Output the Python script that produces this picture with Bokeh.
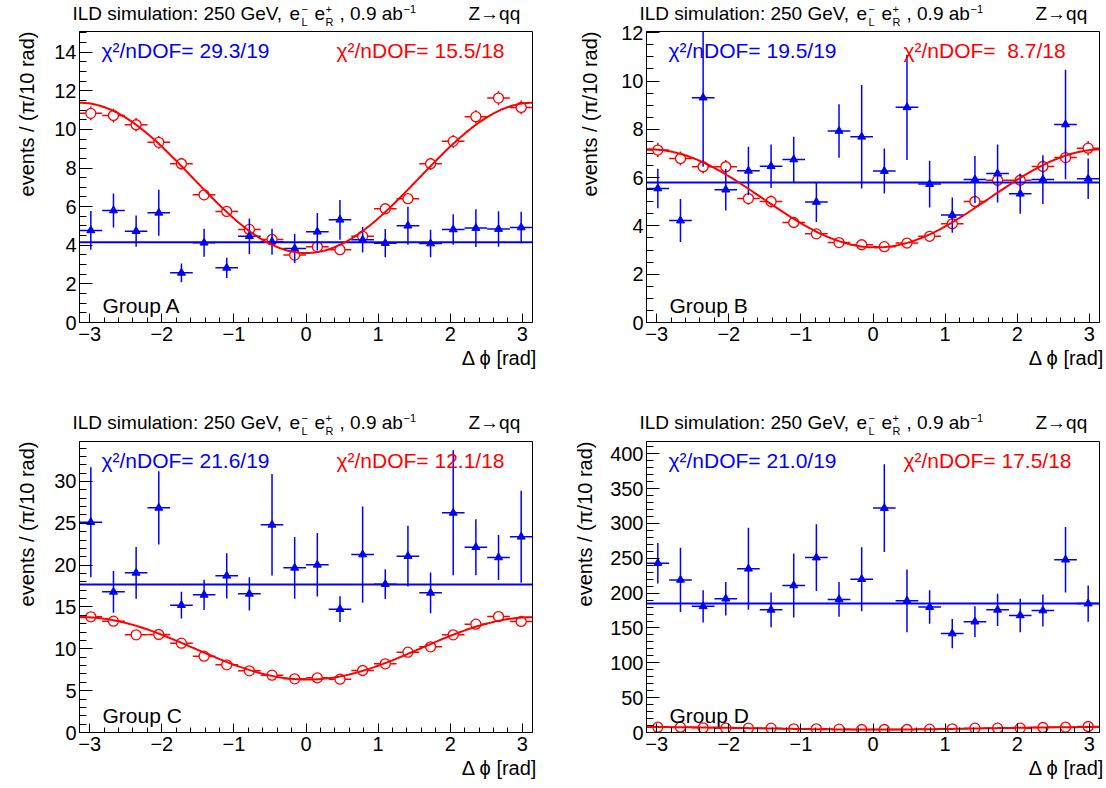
import numpy as np
from bokeh.plotting import figure
from bokeh.layouts import column, row
from bokeh.models import Range1d, FixedTicker, Label, ColumnDataSource, Title
from bokeh.embed import file_html
from bokeh.resources import INLINE

# ---------------- data ----------------
NBINS = 20
x_lo, x_hi = -np.pi, np.pi

# Group A
a_red = [10.83, 10.72, 10.24, 9.33, 8.22, 6.61, 5.75, 4.82, 4.30, 3.49,
         3.92, 3.77, 4.47, 5.89, 6.41, 8.22, 9.38, 10.66, 11.62, 11.14]
a_red_err = [0.36, 0.36, 0.35, 0.33, 0.31, 0.28, 0.26, 0.24, 0.23, 0.21,
             0.22, 0.21, 0.23, 0.26, 0.27, 0.31, 0.33, 0.35, 0.37, 0.36]
a_blue = [4.77, 5.80, 4.73, 5.68, 2.57, 4.13, 2.83, 4.47, 4.18, 3.83,
          4.70, 5.32, 4.28, 4.11, 5.01, 4.09, 4.82, 4.89, 4.84, 4.92]
a_blue_err = [1.00, 0.88, 0.81, 1.19, 0.49, 0.73, 0.52, 0.92, 0.67, 0.75,
              0.97, 1.03, 0.66, 0.73, 0.98, 0.71, 0.79, 0.98, 0.92, 0.81]
a_red_fit = [7.49, 3.89, 0.0]     # offset, amplitude, phase
a_blue_fit = 4.16

# Group B
b_red = [7.14, 6.79, 6.45, 6.45, 5.13, 5.01, 4.14, 3.67, 3.31, 3.22,
         3.14, 3.29, 3.57, 4.09, 5.01, 5.89, 5.89, 6.46, 6.83, 7.22]
b_red_err = [0.30, 0.29, 0.28, 0.28, 0.25, 0.25, 0.22, 0.21, 0.20, 0.20,
             0.20, 0.20, 0.21, 0.22, 0.25, 0.27, 0.27, 0.28, 0.29, 0.30]
b_blue = [5.55, 4.22, 9.31, 5.50, 6.28, 6.47, 6.75, 4.99, 7.93, 7.69,
          6.27, 8.91, 5.73, 4.45, 5.92, 6.17, 5.33, 5.92, 8.20, 5.95]
b_blue_err = [0.82, 0.89, 2.86, 0.86, 1.00, 0.90, 0.94, 0.83, 1.11, 2.14,
              0.93, 2.18, 0.97, 0.73, 0.97, 1.20, 0.83, 1.01, 2.27, 0.84]
b_red_fit = [5.14, 2.03, 0.04]
b_blue_fit = 5.80

# Group C
c_red = [13.82, 13.31, 11.67, 11.71, 10.68, 9.12, 8.09, 7.37, 6.85, 6.41,
         6.53, 6.37, 7.41, 8.21, 9.60, 10.24, 11.67, 12.95, 13.86, 13.27]
c_red_err = [0.45, 0.44, 0.41, 0.41, 0.40, 0.37, 0.35, 0.33, 0.32, 0.31,
             0.31, 0.31, 0.33, 0.35, 0.38, 0.39, 0.41, 0.43, 0.45, 0.44]
c_blue = [25.14, 16.81, 19.08, 26.85, 15.22, 16.45, 18.73, 16.57, 24.82, 19.68,
          20.04, 14.74, 21.27, 17.73, 21.08, 16.69, 26.25, 22.15, 20.92, 23.39]
c_blue_err = [6.57, 2.50, 3.10, 4.37, 1.60, 1.80, 2.70, 2.00, 6.07, 3.68,
              3.80, 1.53, 5.75, 1.77, 3.62, 2.43, 7.47, 3.35, 2.69, 5.50]
c_red_fit = [10.06, 3.73, 0.02]
c_blue_fit = 17.69

# Group D
d_red = [7.6, 7.6, 6.7, 6.2, 6.2, 6.2, 5.3, 5.3, 4.8, 4.3,
         4.3, 4.3, 4.8, 5.3, 6.2, 6.2, 6.2, 7.2, 7.6, 8.6]
d_red_err = [1.2, 1.2, 1.1, 1.1, 1.1, 1.1, 1.0, 1.0, 0.9, 0.9,
             0.9, 0.9, 0.9, 1.0, 1.1, 1.1, 1.1, 1.2, 1.2, 1.3]
d_blue = [243, 219, 181, 192, 235, 176, 211, 251, 191, 220,
          322, 189, 180, 142, 159, 176, 168, 175, 248, 185]
d_blue_err = [29, 46, 23, 24, 59, 25, 46, 48, 25, 46,
              63, 45, 24, 21, 22, 23, 24, 23, 47, 26]
d_red_fit = [6.0, 1.8, 0.0]
d_blue_fit = 185

groups = ["Group A", "Group B", "Group C", "Group D"]
chi_blue = ["χ²/nDOF= 29.3/19", "χ²/nDOF= 19.5/19", "χ²/nDOF= 21.6/19", "χ²/nDOF= 21.0/19"]
chi_red = ["χ²/nDOF= 15.5/18", "χ²/nDOF=\u00a0 8.7/18", "χ²/nDOF= 12.1/18", "χ²/nDOF= 17.5/18"]
y_max = [15.07, 12.05, 34.78, 417.6]
y_major = [2, 2, 5, 50]
y_minor = [0.5, 0.5, 1, 10]
x_tick_labels = {-3: "−3", -2: "−2", -1: "−1", 0: "0", 1: "1", 2: "2", 3: "3"}
x_title = "Δ ϕ [rad]"
y_title = "events / (π/10 rad)"

# ---------------- styling ----------------
FONT = "Liberation Sans"
BLUE = "#0000ff"
RED = "#ff0000"
W = 553
HEAD = 32

COLS = [dict(left=78, right=21, title_x=72), dict(left=93, right=7, title_x=86)]
ROWS = [dict(height=410, top=31, bottom=88, base=19.0),
        dict(height=378, top=31, bottom=56, base=17.5)]
YLAB_STANDOFF = [27, 36, 27, 24]
BL = 6   # svg alphabetic-baseline compensation (px at 20px font)


def header(idx):
    col = COLS[idx % 2]
    rw = ROWS[idx // 2]
    p = figure(width=W, height=HEAD, output_backend="svg", toolbar_location=None,
               x_range=Range1d(0, W), y_range=Range1d(HEAD, 0),
               x_axis_type=None, y_axis_type=None, min_border=0)
    p.outline_line_color = None
    p.background_fill_color = None
    p.border_fill_color = None
    p.xgrid.visible = False
    p.ygrid.visible = False

    def t(text, dx, dy, size):
        p.add_layout(Label(x=col["title_x"] + dx, y=rw["base"] + dy - BL * size / 20.0,
                           text=text, text_font=FONT, text_font_size=f"{size}px",
                           text_color="black", text_align="left", text_baseline="alphabetic"))
    t("ILD simulation: 250 GeV,", 0, 0, 19)
    t("e", 217, 0, 19)
    t("L", 229, 6, 11)
    t("−", 229, -7, 11)
    t("e", 242, 0, 19)
    t("R", 253, 6, 11)
    t("+", 253, -7, 11)
    t(", 0.9 ab", 267, 0, 19)
    t("−1", 331, -7, 11)
    t("Z→qq", 396, 0, 19)
    return p


def panel(idx, red, red_err, blue, blue_err, red_fit, blue_fit):
    col = COLS[idx % 2]
    rw = ROWS[idx // 2]
    p = figure(width=W, height=rw["height"], output_backend="svg",
               toolbar_location=None, x_range=Range1d(x_lo, x_hi),
               y_range=Range1d(0, y_max[idx]), margin=(-HEAD, 0, 0, 0))
    p.min_border_left = col["left"]
    p.min_border_right = col["right"]
    p.min_border_top = rw["top"]
    p.min_border_bottom = rw["bottom"]
    p.background_fill_color = "white"
    p.border_fill_color = None
    p.outline_line_color = "black"
    p.outline_line_width = 1
    p.xgrid.visible = False
    p.ygrid.visible = False

    # axes
    xa = p.xaxis[0]
    xa.ticker = FixedTicker(ticks=list(range(-3, 4)),
                            minor_ticks=[round(v, 1) for v in np.arange(-3.2, 3.21, 0.2)])
    xa.major_label_overrides = x_tick_labels
    ya = p.yaxis[0]
    ya.ticker = FixedTicker(ticks=list(np.arange(0, y_max[idx] + 1e-9, y_major[idx])),
                            minor_ticks=list(np.arange(0, y_max[idx] + 1e-9, y_minor[idx])))
    for ax, maj, mnr in ((xa, 9, 5), (ya, 13, 7)):
        ax.major_tick_in = maj
        ax.major_tick_out = 0
        ax.minor_tick_in = mnr
        ax.minor_tick_out = 0
        ax.axis_line_color = "black"
        ax.major_tick_line_color = "black"
        ax.minor_tick_line_color = "black"
        ax.major_label_text_font = FONT
        ax.major_label_text_font_size = "20px"
        ax.major_label_text_color = "black"
    xa.major_label_standoff = 4
    ya.major_label_standoff = 3

    # axis titles (right / top aligned, ROOT style)
    p.add_layout(Title(text=x_title, align="right", offset=-5, standoff=2,
                       text_font=FONT, text_font_size="20px", text_font_style="normal",
                       text_color="black"), "below")
    p.add_layout(Title(text=y_title, align="right", offset=0, standoff=YLAB_STANDOFF[idx],
                       text_font=FONT, text_font_size="20px", text_font_style="normal",
                       text_color="black"), "left")

    edges = np.linspace(x_lo, x_hi, NBINS + 1)
    xc = 0.5 * (edges[:-1] + edges[1:])
    red = np.array(red, float)
    red_err = np.array(red_err, float)
    blue = np.array(blue, float)
    blue_err = np.array(blue_err, float)

    rs = ColumnDataSource(dict(x=xc, y=red, x0=edges[:-1], x1=edges[1:],
                               ylo=red - red_err, yhi=red + red_err))
    bs = ColumnDataSource(dict(x=xc, y=blue, x0=edges[:-1], x1=edges[1:],
                               ylo=blue - blue_err, yhi=blue + blue_err))

    p.segment(x0="x", y0="ylo", x1="x", y1="yhi", source=rs, line_color=RED, line_width=1.5)
    p.segment(x0="x0", y0="y", x1="x1", y1="y", source=rs, line_color=RED, line_width=1.5)
    p.scatter(x="x", y="y", source=rs, marker="circle", size=10, line_color=RED,
              line_width=1.3, fill_color="white")
    p.segment(x0="x", y0="ylo", x1="x", y1="yhi", source=bs, line_color=BLUE, line_width=1.5)
    p.segment(x0="x0", y0="y", x1="x1", y1="y", source=bs, line_color=BLUE, line_width=1.5)
    p.scatter(x="x", y="y", source=bs, marker="triangle", size=8, line_color=BLUE,
              fill_color=BLUE)
    p.line(x=[x_lo, x_hi], y=[blue_fit, blue_fit], line_color=BLUE, line_width=2)
    xs = np.linspace(x_lo, x_hi, 300)
    p.line(x=xs, y=red_fit[0] - red_fit[1] * np.cos(xs - red_fit[2]), line_color=RED, line_width=2)

    def lab(text, x, y, size, color):
        p.add_layout(Label(x=x, y=y + BL * size / 20.0, x_units="screen", y_units="screen",
                           text=text, text_font=FONT, text_font_size=f"{size}px",
                           text_color=color, text_align="left", text_baseline="alphabetic"))
    lab(chi_blue[idx], 22, 266, 21, BLUE)
    lab(chi_red[idx], 257, 266, 21, RED)
    lab(groups[idx], 23, 11, 21, "black")
    return p


cells = []
for i, args in enumerate([(a_red, a_red_err, a_blue, a_blue_err, a_red_fit, a_blue_fit),
                          (b_red, b_red_err, b_blue, b_blue_err, b_red_fit, b_blue_fit),
                          (c_red, c_red_err, c_blue, c_blue_err, c_red_fit, c_blue_fit),
                          (d_red, d_red_err, d_blue, d_blue_err, d_red_fit, d_blue_fit)]):
    cells.append(column(row(header(i)), panel(i, *args)))

layout = column(row(cells[0], cells[1]), row(cells[2], cells[3]))

open("out.html", "w").write(file_html(layout, INLINE))
